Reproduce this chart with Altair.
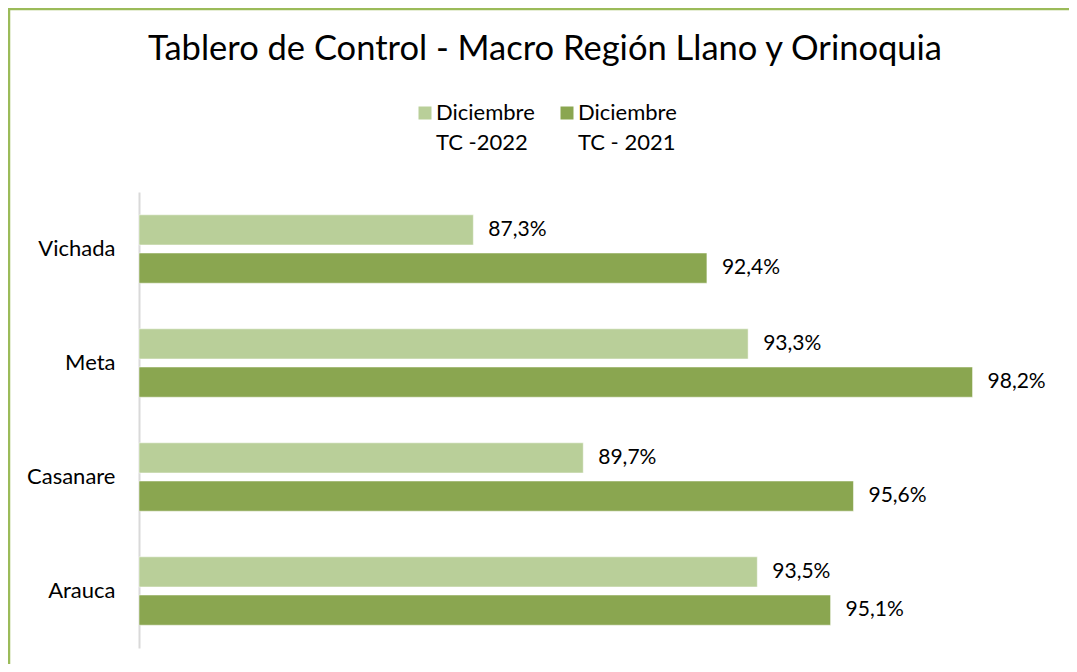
import altair as alt
import pandas as pd

regions = ["Vichada", "Meta", "Casanare", "Arauca"]
series = ["Diciembre|TC -2022", "Diciembre|TC - 2021"]
values_2022 = [87.3, 93.3, 89.7, 93.5]
values_2021 = [92.4, 98.2, 95.6, 95.1]
colors = ["#B9CF99", "#8AA650"]
title_text = "Tablero de Control - Macro Región Llano y Orinoquia"

rows = []
for r, a, b in zip(regions, values_2022, values_2021):
    for s, v in zip(series, [a, b]):
        rows.append({"region": r, "serie": s, "valor": v,
                     "etiqueta": f"{v:.1f}".replace(".", ",") + "%"})
df = pd.DataFrame(rows)

FONT = "Lato"

base = alt.Chart(df).encode(
    y=alt.Y("region:N", sort=regions,
            scale=alt.Scale(paddingInner=0.4, paddingOuter=0.2),
            axis=alt.Axis(title=None, ticks=False, domainColor="#D9D9D9",
                          domainWidth=2, labelFont=FONT, labelFontSize=22,
                          labelColor="#000000", labelPadding=24)),
    yOffset=alt.YOffset("serie:N", sort=series,
                        scale=alt.Scale(paddingInner=0.21, paddingOuter=0)),
)

bars = base.mark_bar(stroke="#FFFFFF", strokeWidth=0.5).encode(
    x=alt.X("valor:Q", scale=alt.Scale(domain=[80, 100], clamp=True, zero=False),
            axis=None),
    color=alt.Color("serie:N", sort=series,
                    scale=alt.Scale(domain=series, range=colors),
                    legend=alt.Legend(title=None, orient="none", direction="horizontal",
                                      legendX=275, legendY=-90,
                                      symbolType="square", symbolSize=169,
                                      symbolStrokeWidth=0, labelFont=FONT,
                                      labelFontSize=22, labelColor="#000000",
                                      labelOffset=0, columnPadding=21,
                                      labelExpr="split(datum.label, '|')")),
)

labels = base.mark_text(align="left", baseline="middle", dx=15, font=FONT,
                        fontSize=21, color="#000000").encode(
    x=alt.X("valor:Q"),
    text="etiqueta:N",
)

border = alt.Chart(alt.Data(values=[{}])).mark_rect(
    fill=None, stroke="#9BBB59", strokeWidth=2.5).encode(
    x=alt.value(-130), x2=alt.value(1000), y=alt.value(-183), y2=alt.value(600))

chart = alt.layer(border, bars, labels).properties(
    width=916, height=456,
    autosize=alt.AutoSizeParams(type="none"),
    padding={"left": 131, "top": 184, "right": 14, "bottom": 16},
    title=alt.Title(title_text, font=FONT, fontSize=34.5, fontWeight="normal",
                    color="#000000", anchor="middle", frame="group", dx=-52,
                    offset=0, dy=60),
).configure(style={"guide-label": {"lineHeight": 30}}).configure_view(stroke=None)

chart.save("out.html", embed_options={"renderer": "svg", "actions": False})
